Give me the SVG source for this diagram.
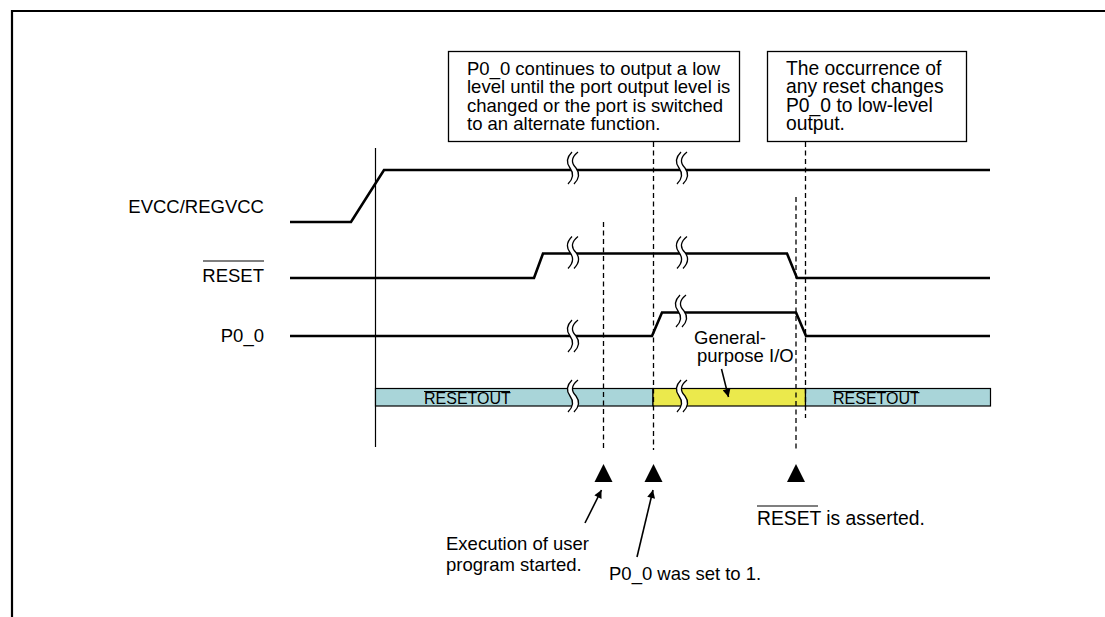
<svg xmlns="http://www.w3.org/2000/svg" width="1105" height="617" viewBox="0 0 1105 617">
<defs>
<style>
text{font-family:"Liberation Sans",Arial,Helvetica,sans-serif;fill:#000}
.t18{font-size:18.5px}
.t19{font-size:19.3px}
.t16{font-size:16px}
.sig{fill:none;stroke:#000;stroke-width:2.6;stroke-linejoin:miter}
.dash{fill:none;stroke:#000;stroke-width:1.3;stroke-dasharray:5,3.5}
.box{fill:#fff;stroke:#000;stroke-width:1.3}
.bar{stroke:#000;stroke-width:1.2}
.ol{stroke:#000;stroke-width:1.2}
.arr{fill:none;stroke:#000;stroke-width:1.6}
.tri{fill:#000}
</style>
<marker id="ah" viewBox="0 0 10 10" refX="10" refY="5" markerWidth="12" markerHeight="8" markerUnits="userSpaceOnUse" orient="auto">
<path d="M0,0 L10,5 L0,10 z" fill="#000"/>
</marker>
<g id="brk">
<path d="M2,-16 Q-6,-8 0,0 Q6,8 -2,16 L4,16 Q12,8 6,0 Q-2,-8 8,-16 Z" fill="#fff" stroke="none"/>
<path d="M2,-16 Q-6,-8 0,0 Q6,8 -2,16 M8,-16 Q-2,-8 6,0 Q12,8 4,16" fill="none" stroke="#000" stroke-width="1.3"/>
</g>
</defs>
<rect width="1105" height="617" fill="#fff"/>
<g id="frame">
<path d="M12,617 V11 H1105" fill="none" stroke="#000" stroke-width="2.2"/>
</g>
<g id="axis">
<line x1="375.5" y1="148" x2="375.5" y2="447" stroke="#000" stroke-width="1.2"/>
</g>
<g id="bar">
<rect class="bar" x="375.5" y="388.5" width="277.5" height="17.5" fill="#a9d5d9"/>
<rect class="bar" x="653" y="388.5" width="152.5" height="17.5" fill="#ebe94c"/>
<rect class="bar" x="805.5" y="388.5" width="185" height="17.5" fill="#a9d5d9"/>
<text class="t16" x="424" y="404">RESETOUT</text>
<line class="ol" x1="424" y1="391.5" x2="510" y2="391.5"/>
<text class="t16" x="833" y="404">RESETOUT</text>
<line class="ol" x1="833" y1="391.5" x2="918" y2="391.5"/>
</g>
<g id="connectors">
<line class="dash" x1="603.5" y1="222" x2="603.5" y2="450"/>
<line class="dash" x1="653.5" y1="142" x2="653.5" y2="450"/>
<line class="dash" x1="796" y1="197" x2="796" y2="450"/>
<line class="dash" x1="805.5" y1="142" x2="805.5" y2="418"/>
<line class="arr" x1="585" y1="523" x2="601.5" y2="490" marker-end="url(#ah)"/>
<line class="arr" x1="637" y1="557" x2="653" y2="490" marker-end="url(#ah)"/>
<line class="arr" x1="721.5" y1="369" x2="728.5" y2="397" marker-end="url(#ah)"/>
</g>
<g id="evcc">
<text class="t18" x="264" y="213" text-anchor="end">EVCC/REGVCC</text>
<polyline class="sig" points="290,222 351,222 384,170 990,170"/>
<use href="#brk" x="570" y="168"/>
<use href="#brk" x="679" y="168"/>
</g>
<g id="reset">
<text class="t18" x="264" y="282" text-anchor="end">RESET</text>
<line class="ol" x1="203" y1="261" x2="264" y2="261"/>
<polyline class="sig" points="290,278 534,278 543,253.5 787,253.5 797,278 990,278"/>
<use href="#brk" x="570" y="252.5"/>
<use href="#brk" x="679" y="252.5"/>
</g>
<g id="p00">
<text class="t18" x="264" y="342" text-anchor="end">P0_0</text>
<polyline class="sig" points="290,336 652,336 662,312.5 796,312.5 806,336 990,336"/>
<use href="#brk" x="570" y="336"/>
<use href="#brk" x="678" y="311"/>
</g>
<g id="bar-breaks">
<use href="#brk" x="570" y="396"/>
<use href="#brk" x="679" y="396"/>
</g>
<g id="gpio-label">
<text class="t18" x="694" y="344">General-</text>
<text class="t18" x="697" y="362">purpose I/O</text>
</g>
<g id="note1">
<rect class="box" x="448.5" y="51.5" width="291" height="90"/>
<text class="t18" x="467" y="75">P0_0 continues to output a low</text>
<text class="t18" x="467" y="93">level until the port output level is</text>
<text class="t18" x="467" y="111.5">changed or the port is switched</text>
<text class="t18" x="467" y="130">to an alternate function.</text>
</g>
<g id="note2">
<rect class="box" x="767.5" y="51.5" width="199" height="90"/>
<text class="t19" x="786" y="75">The occurrence of</text>
<text class="t19" x="786" y="93">any reset changes</text>
<text class="t19" x="786" y="111.5">P0_0 to low-level</text>
<text class="t19" x="786" y="130">output.</text>
</g>
<g id="markers">
<polygon class="tri" points="603.5,464 594.5,482 612.5,482"/>
<polygon class="tri" points="653.5,464 644.5,482 662.5,482"/>
<polygon class="tri" points="796,464 787,482 805,482"/>
</g>
<g id="ann-exec">
<text class="t18" x="446" y="550">Execution of user</text>
<text class="t18" x="446" y="571">program started.</text>
</g>
<g id="ann-p00">
<text class="t18" x="609" y="580">P0_0 was set to 1.</text>
</g>
<g id="ann-reset">
<text class="t19" x="757" y="525">RESET is asserted.</text>
<line class="ol" x1="757" y1="506" x2="818" y2="506"/>
</g>
</svg>
